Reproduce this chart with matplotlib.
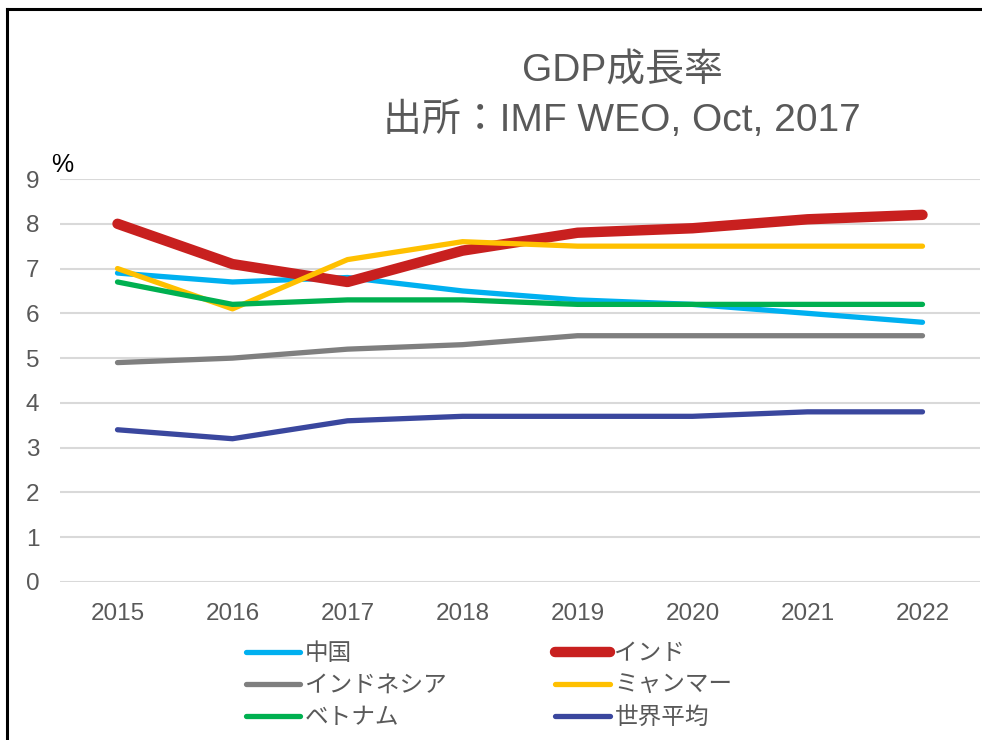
import matplotlib
matplotlib.use("Agg")
import matplotlib.pyplot as plt
from matplotlib.lines import Line2D

plt.rcParams['font.family'] = ['Liberation Sans', 'Noto Sans CJK JP', 'DejaVu Sans']

years = ['2015', '2016', '2017', '2018', '2019', '2020', '2021', '2022']
china = [6.9, 6.7, 6.8, 6.5, 6.3, 6.2, 6.0, 5.8]
india = [8.0, 7.1, 6.7, 7.4, 7.8, 7.9, 8.1, 8.2]
indonesia = [4.9, 5.0, 5.2, 5.3, 5.5, 5.5, 5.5, 5.5]
myanmar = [7.0, 6.1, 7.2, 7.6, 7.5, 7.5, 7.5, 7.5]
vietnam = [6.7, 6.2, 6.3, 6.3, 6.2, 6.2, 6.2, 6.2]
world = [3.4, 3.2, 3.6, 3.7, 3.7, 3.7, 3.8, 3.8]
yticks = list(range(0, 10))

series = [
    ('中国', china, '#00B0F0', 3.8),
    ('インド', india, '#C8201F', 7.5),
    ('インドネシア', indonesia, '#7F7F7F', 3.8),
    ('ミャンマー', myanmar, '#FFC000', 3.8),
    ('ベトナム', vietnam, '#00B050', 3.8),
    ('世界平均', world, '#3A479E', 3.8),
]

fig = plt.figure(figsize=(9.82, 7.40), dpi=100)
ax = fig.add_axes([60/982, 1-582/740, 920/982, 403/740])

x = list(range(len(years)))
handles = {}
for name, vals, col, lw in series:
    ln, = ax.plot(x, vals, color=col, lw=lw, solid_capstyle='round', solid_joinstyle='round', label=name)
    handles[name] = ln

ax.set_xlim(-0.5, len(years) - 0.5)
ax.set_ylim(0, 9)
ax.set_yticks(yticks)
ax.set_xticks(x)
ax.set_xticklabels(years)
ax.grid(axis='y', color='#D9D9D9', lw=1.5)
ax.set_axisbelow(True)
for s in ax.spines.values():
    s.set_visible(False)
ax.tick_params(axis='both', length=0, labelsize=17.5, colors='#595959')
ax.tick_params(axis='y', pad=15)
ax.tick_params(axis='x', pad=15)

fig.text(622/982, 1-71/740, 'GDP成長率', ha='center', va='center', fontsize=28, color='#595959')
fig.text(622/982, 1-120/740, '出所：IMF WEO, Oct, 2017', ha='center', va='center', fontsize=28, color='#595959')
fig.text(62/982, 1-165/740, '%', ha='center', va='center', fontsize=18, color='black')

order = ['中国', 'インドネシア', 'ベトナム', 'インド', 'ミャンマー', '世界平均']
leg_handles = []
for n in order:
    h = handles[n]
    leg_handles.append(Line2D([], [], color=h.get_color(), lw=h.get_linewidth(), solid_capstyle='round'))
leg = fig.legend(leg_handles, order, ncol=2, loc='upper left', bbox_to_anchor=(246/982, 1-643/740),
                 frameon=False, fontsize=17, handlelength=2.3, handletextpad=0.2,
                 columnspacing=4.6, labelspacing=0.42, borderaxespad=0, borderpad=0)
for t in leg.get_texts():
    t.set_color('#595959')

# outer frame (black border of the chart area)
fig.add_artist(Line2D([7/982, 7/982], [0, 1-9/740], color='black', lw=2.2, transform=fig.transFigure))
fig.add_artist(Line2D([7/982, 1], [1-9/740, 1-9/740], color='black', lw=2.2, transform=fig.transFigure))

fig.savefig('out.png', dpi=100)
